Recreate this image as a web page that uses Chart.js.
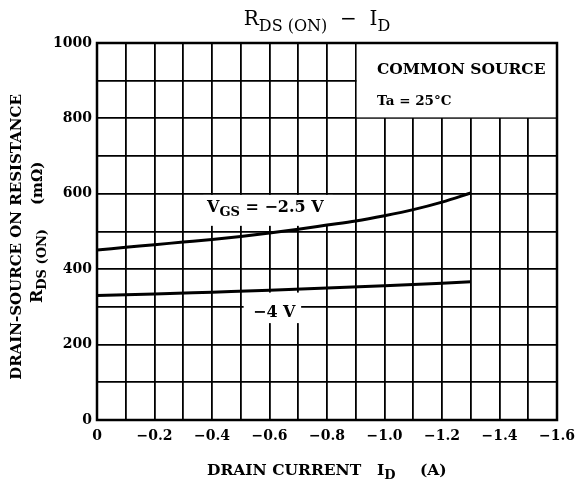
<!DOCTYPE html>
<html>
<head>
<meta charset="utf-8">
<script src="https://cdn.jsdelivr.net/npm/chart.js@4/dist/chart.umd.min.js"></script>
<style>
  html, body { margin: 0; padding: 0; background: #fff; }
  #wrap { width: 581px; height: 486px; }
</style>
</head>
<body>
<div id="wrap"><canvas id="rds" width="581" height="486"></canvas></div>
<script>
// drain current (A) and on-resistance (mOhm)
const idVgs25 = [0, -0.1, -0.2, -0.3, -0.4, -0.5, -0.6, -0.7, -0.8, -0.9, -1.0, -1.1, -1.2, -1.3];
const rVgs25  = [451, 458, 465, 472, 479, 487, 496, 506, 517, 528, 542, 558, 578, 602];
const idVgs4  = [0, -0.2, -0.4, -0.6, -0.8, -1.0, -1.2, -1.3];
const rVgs4   = [330, 334, 339, 344, 350, 356, 363, 367];

const xTicksShown = [0, -0.2, -0.4, -0.6, -0.8, -1.0, -1.2, -1.4, -1.6];
const yTicksShown = [0, 200, 400, 600, 800, 1000];

const SERIF = '"DejaVu Serif", "Liberation Serif", serif';

function pts(xs, ys) {
  return xs.map((x, i) => ({ x: x, y: ys[i] }));
}

// draw a run of text pieces, some of them as subscripts
function drawRich(ctx, parts, x, y, size, bold, align) {
  const big = (bold ? 'bold ' : '') + size + 'px ' + SERIF;
  const small = (bold ? 'bold ' : '') + Math.round(size * 0.82) + 'px ' + SERIF;
  let total = 0;
  parts.forEach(p => { ctx.font = p[1] ? small : big; total += ctx.measureText(p[0]).width; });
  let cx = align === 'center' ? x - total / 2 : x;
  ctx.textAlign = 'left';
  ctx.textBaseline = 'alphabetic';
  parts.forEach(p => {
    ctx.font = p[1] ? small : big;
    ctx.fillText(p[0], cx, y + (p[1] ? size * 0.28 : 0));
    cx += ctx.measureText(p[0]).width;
  });
}

const decor = {
  id: 'decor',
  beforeDatasetsDraw(chart) {
    const { ctx, chartArea: a, scales: { x, y } } = chart;
    ctx.save();
    ctx.fillStyle = '#fff';
    const blank = (x0, x1, y0, y1) => {
      const px0 = x.getPixelForValue(x0), px1 = x.getPixelForValue(x1);
      const py0 = y.getPixelForValue(y0), py1 = y.getPixelForValue(y1);
      ctx.fillRect(Math.min(px0, px1), Math.min(py0, py1), Math.abs(px1 - px0), Math.abs(py1 - py0));
    };
    // legend box in the corner, gaps behind the curve labels
    const bx0 = x.getPixelForValue(-0.9) + 1, by0 = y.getPixelForValue(800) - 1;
    ctx.fillRect(bx0, a.top + 1, a.right - bx0 - 1, by0 - a.top - 1);
    blank(-0.37, -0.82, 515, 597);
    blank(-0.51, -0.71, 257, 338);
    // frame
    ctx.strokeStyle = '#000';
    ctx.lineWidth = 2.5;
    ctx.strokeRect(a.left, a.top, a.right - a.left, a.bottom - a.top);
    ctx.restore();
  },
  afterDraw(chart) {
    const { ctx } = chart;
    ctx.save();
    ctx.fillStyle = '#000';
    // title
    drawRich(ctx, [['R', 0], ['DS (ON)', 1], ['  −  I', 0], ['D', 1]], 317, 25, 20, false, 'center');
    // legend text
    drawRich(ctx, [['COMMON SOURCE', 0]], 377, 74, 15.5, true, 'left');
    drawRich(ctx, [['Ta = 25°C', 0]], 377, 105, 13.5, true, 'left');
    // curve labels
    drawRich(ctx, [['V', 0], ['GS', 1], [' = −2.5 V', 0]], 207, 212, 16, true, 'left');
    drawRich(ctx, [['−4 V', 0]], 253, 317, 16, true, 'left');
    // x axis title
    drawRich(ctx, [['DRAIN CURRENT', 0]], 207, 475, 15.5, true, 'left');
    drawRich(ctx, [['I', 0], ['D', 1]], 377, 475, 15.5, true, 'left');
    drawRich(ctx, [['(A)', 0]], 420, 475, 15.5, true, 'left');
    // y axis title, rotated
    ctx.save();
    ctx.translate(21, 237);
    ctx.rotate(-Math.PI / 2);
    drawRich(ctx, [['DRAIN-SOURCE ON RESISTANCE', 0]], 0, 0, 15, true, 'center');
    ctx.restore();
    ctx.save();
    ctx.translate(42, 303);
    ctx.rotate(-Math.PI / 2);
    drawRich(ctx, [['R', 0], ['DS (ON)', 1]], 0, 0, 16, true, 'left');
    drawRich(ctx, [['(mΩ)', 0]], 98, 0, 15, true, 'left');
    ctx.restore();
    ctx.restore();
  }
};

const lineStyle = {
  borderColor: '#000',
  borderWidth: 3,
  pointRadius: 0,
  fill: false,
  cubicInterpolationMode: 'monotone'
};

new Chart(document.getElementById('rds'), {
  type: 'line',
  data: {
    datasets: [
      Object.assign({ label: 'VGS = -2.5 V', data: pts(idVgs25, rVgs25) }, lineStyle),
      Object.assign({ label: 'VGS = -4 V', data: pts(idVgs4, rVgs4) }, lineStyle)
    ]
  },
  options: {
    responsive: false,
    animation: false,
    devicePixelRatio: 1,
    layout: { padding: { top: 43, right: 24, left: 0, bottom: 0 } },
    plugins: {
      legend: { display: false },
      tooltip: { enabled: false }
    },
    scales: {
      x: {
        type: 'linear',
        reverse: true,
        min: -1.6,
        max: 0,
        afterFit(s) { s.height = 66; s.paddingLeft = 0; s.paddingRight = 0; },
        grid: { color: '#000', lineWidth: 1.8, drawTicks: false },
        border: { display: false },
        ticks: {
          stepSize: 0.1,
          autoSkip: false,
          maxRotation: 0,
          padding: 8,
          color: '#000',
          font: { family: SERIF, size: 14, weight: 'bold' },
          callback(v) {
            const hit = xTicksShown.find(t => Math.abs(t - v) < 1e-6);
            if (hit === undefined) return '';
            return hit === 0 ? '0' : '−' + Math.abs(hit).toFixed(1);
          }
        }
      },
      y: {
        min: 0,
        max: 1000,
        afterFit(s) { s.width = 97; s.paddingTop = 0; s.paddingBottom = 0; },
        grid: { color: '#000', lineWidth: 1.8, drawTicks: false },
        border: { display: false },
        ticks: {
          stepSize: 100,
          padding: 5,
          color: '#000',
          font: { family: SERIF, size: 14, weight: 'bold' },
          callback(v) {
            return yTicksShown.includes(v) ? String(v) : '';
          }
        }
      }
    }
  },
  plugins: [decor]
});
</script>
</body>
</html>
